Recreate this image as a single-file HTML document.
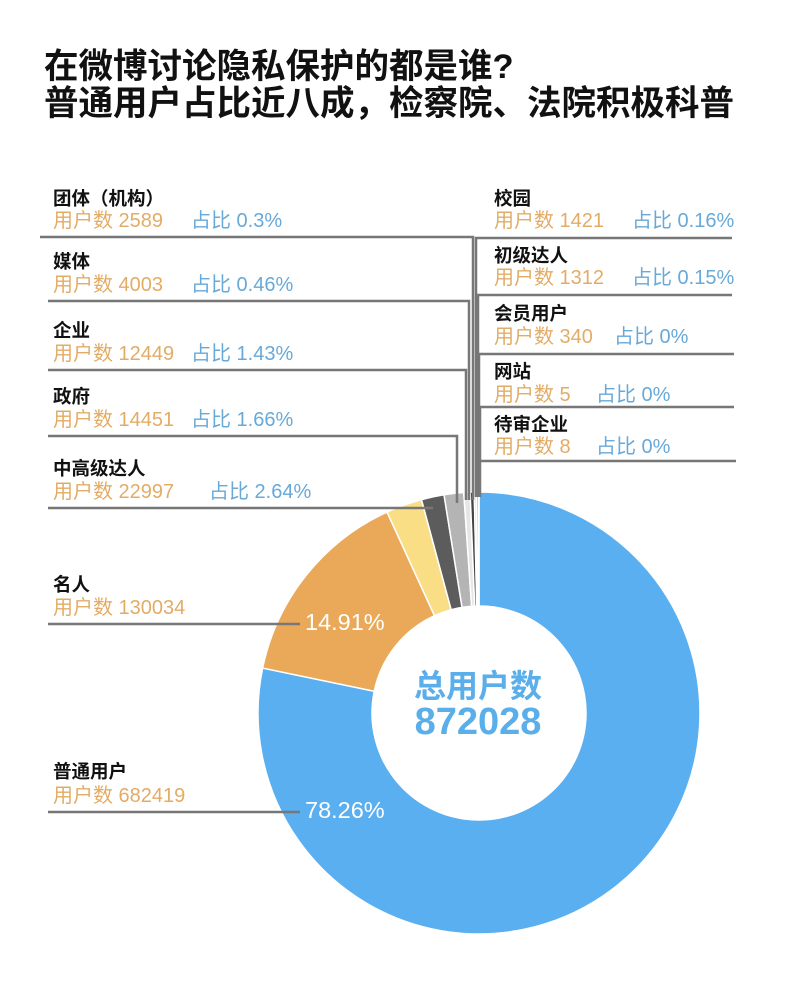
<!DOCTYPE html>
<html><head><meta charset="utf-8"><style>
body{margin:0;background:#fff;}
svg{display:block;font-family:"Liberation Sans","Noto Sans CJK SC",sans-serif;}
.n{font-size:18.5px;fill:#111;font-weight:bold;}
.o{font-size:20px;fill:#e3ac66;}
.b{font-size:20px;fill:#68a9d8;}
</style></head><body>
<svg id="s" width="800" height="996" viewBox="0 0 800 996">
<rect width="800" height="996" fill="#fff"/>
<text x="44" y="78" font-size="34.5" font-weight="bold" fill="#111">在微博讨论隐私保护的都是谁?</text>
<text x="44" y="115" font-size="34.5" font-weight="bold" fill="#111">普通用户占比近八成，检察院、法院积极科普</text>
<g id="pie"></g>
<g stroke="#777" stroke-width="2.5" fill="none">
<polyline points="40,237 473,237 473,500"/>
<polyline points="48,301 469,301 469,500"/>
<polyline points="48,370 466,370 466,500"/>
<polyline points="48,436 457,436 457,503"/>
<polyline points="48,508 433,508"/>
<polyline points="48,624 300,624"/>
<polyline points="48,812 300,812"/>
<polyline points="732,238 476,238 476,497"/>
<polyline points="732,295 478,295 478,497"/>
<polyline points="734,354 479,354 479,497"/>
<polyline points="734,407 480,407 480,497"/>
<polyline points="736,461 480,461"/>
</g>
<text x="53" y="205" class="n">团体（机构）</text>
<text x="53" y="227" class="o">用户数 2589</text><text x="191" y="227" class="b">占比 0.3%</text>
<text x="53" y="268" class="n">媒体</text>
<text x="53" y="291" class="o">用户数 4003</text><text x="191" y="291" class="b">占比 0.46%</text>
<text x="53" y="337" class="n">企业</text>
<text x="53" y="360" class="o">用户数 12449</text><text x="191" y="360" class="b">占比 1.43%</text>
<text x="53" y="403" class="n">政府</text>
<text x="53" y="426" class="o">用户数 14451</text><text x="191" y="426" class="b">占比 1.66%</text>
<text x="53" y="475" class="n">中高级达人</text>
<text x="53" y="498" class="o">用户数 22997</text><text x="209" y="498" class="b">占比 2.64%</text>
<text x="53" y="591" class="n">名人</text>
<text x="53" y="614" class="o">用户数 130034</text>
<text x="53" y="778" class="n">普通用户</text>
<text x="53" y="802" class="o">用户数 682419</text>
<text x="494" y="205" class="n">校园</text>
<text x="494" y="227" class="o">用户数 1421</text><text x="632" y="227" class="b">占比 0.16%</text>
<text x="494" y="262" class="n">初级达人</text>
<text x="494" y="284" class="o">用户数 1312</text><text x="632" y="284" class="b">占比 0.15%</text>
<text x="494" y="320" class="n">会员用户</text>
<text x="494" y="343" class="o">用户数 340</text><text x="614" y="343" class="b">占比 0%</text>
<text x="494" y="378" class="n">网站</text>
<text x="494" y="401" class="o">用户数 5</text><text x="596" y="401" class="b">占比 0%</text>
<text x="494" y="431" class="n">待审企业</text>
<text x="494" y="453" class="o">用户数 8</text><text x="596" y="453" class="b">占比 0%</text>
<text x="478" y="697" text-anchor="middle" font-size="32" font-weight="bold" fill="#5aaee9">总用户数</text>
<text x="478" y="734" text-anchor="middle" font-size="38" font-weight="bold" fill="#5aaee9">872028</text>
<text x="305" y="630" font-size="23.5" fill="#fff">14.91%</text>
<text x="305" y="818" font-size="23.5" fill="#fff">78.26%</text>
</svg>
<script>
var cx=479,cy=713,R=221,r=107;
var d=[[78.26,"#5aaff0"],[14.91,"#eaa958"],[2.64,"#fade86"],[1.66,"#5c5c5c"],[1.43,"#b4b4b4"],[0.46,"#e6e6e6"],[0.3,"#444"],[0.16,"#ddd"],[0.15,"#888"],[0.03,"#fff"]];
var tot=0;d.forEach(function(x){tot+=x[0]});
var a=0,g=document.getElementById("pie"),h="";
function p(rad,t){return (cx+rad*Math.sin(t)).toFixed(2)+","+(cy-rad*Math.cos(t)).toFixed(2);}
d.forEach(function(x){var s=a*2*Math.PI/tot;a+=x[0];var e=a*2*Math.PI/tot;var l=(e-s)>Math.PI?1:0;
h+='<path d="M'+p(R,s)+' A'+R+','+R+' 0 '+l+' 1 '+p(R,e)+' L'+p(r,e)+' A'+r+','+r+' 0 '+l+' 0 '+p(r,s)+' Z" fill="'+x[1]+'" stroke="#fff" stroke-width="1.5"/>';});
h+='<circle cx="'+cx+'" cy="'+cy+'" r="'+r+'" fill="#fff"/>';
g.innerHTML=h;
</script>
</body></html>
